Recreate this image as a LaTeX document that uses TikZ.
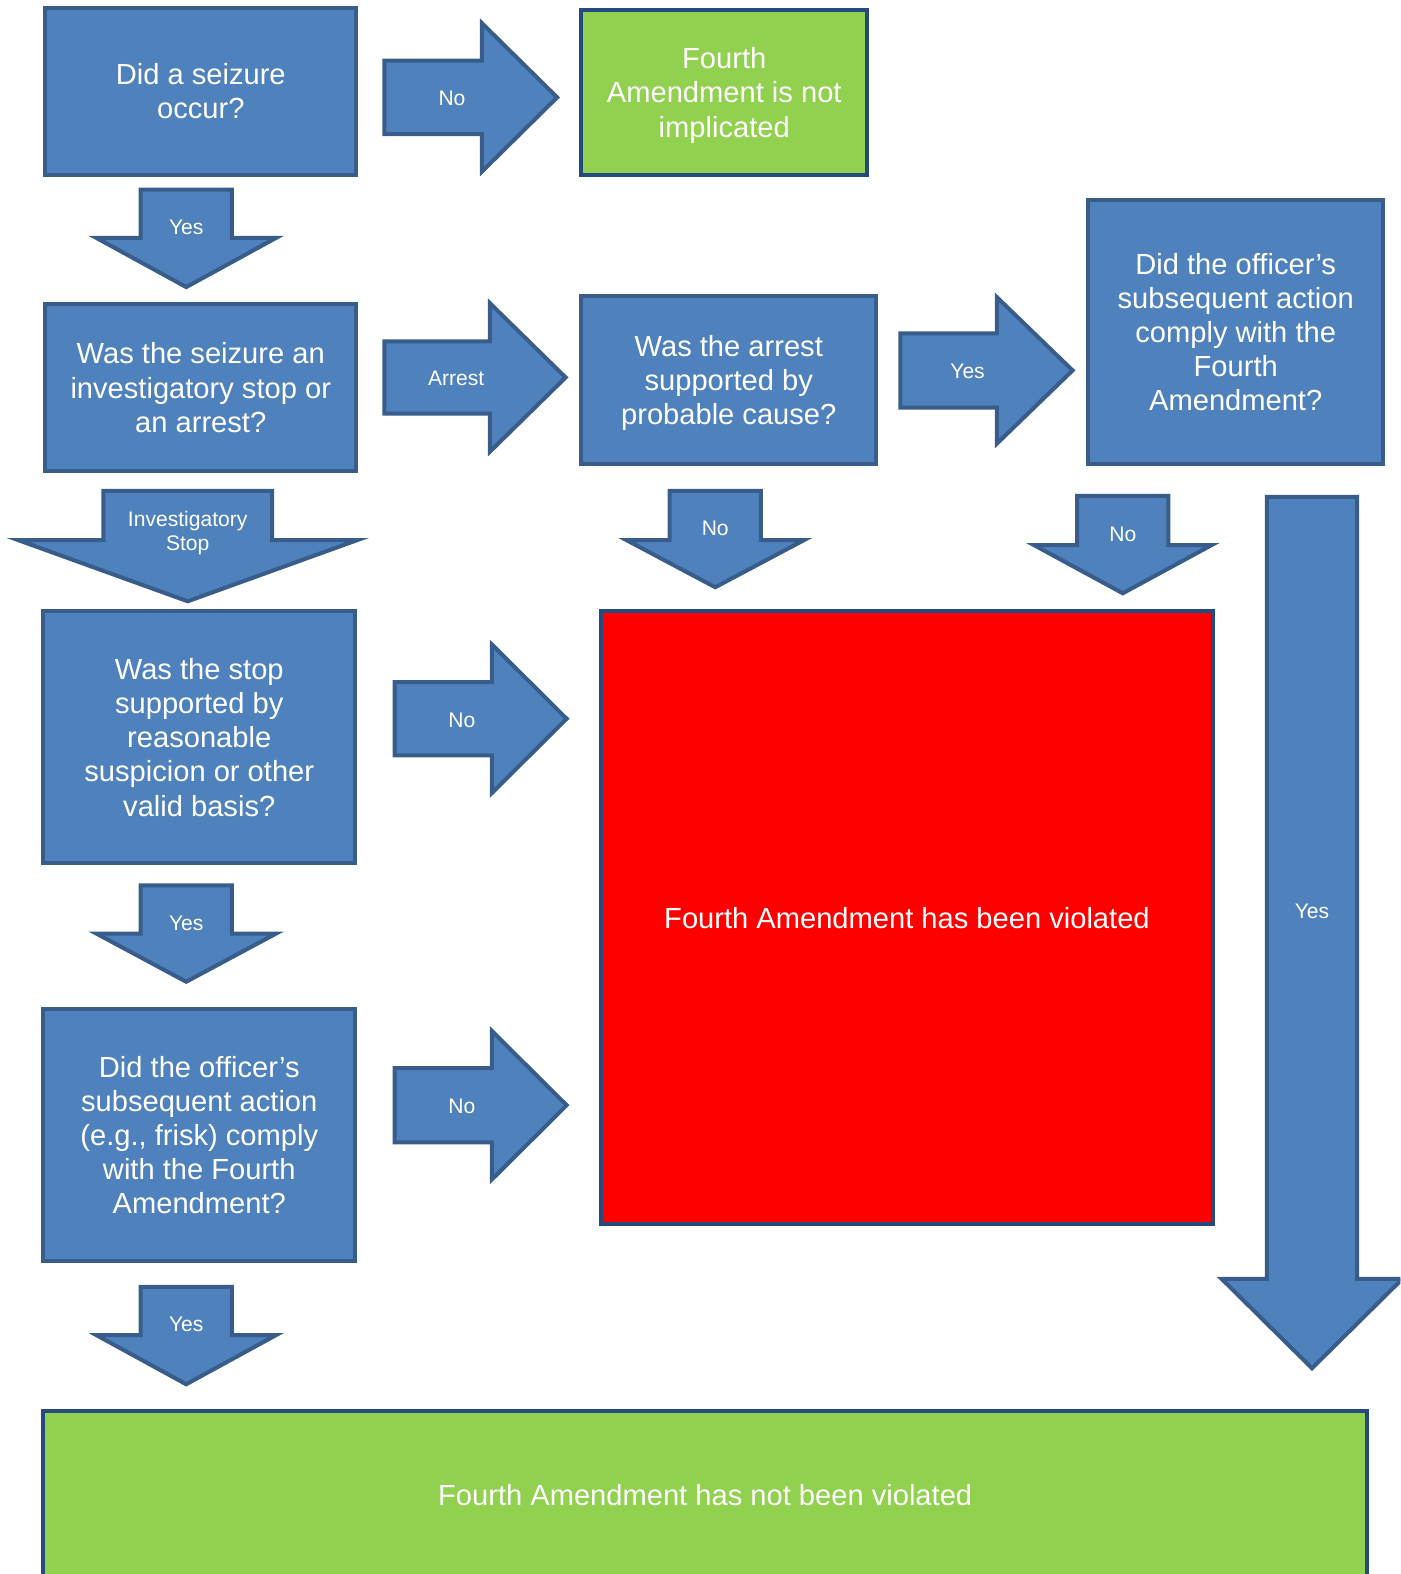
\documentclass[tikz,border=0pt]{standalone}
\usepackage{fontspec}
\setmainfont{Liberation Sans}
\definecolor{boxblue}{HTML}{4F81BD}
\definecolor{boxedge}{HTML}{385D8A}
\definecolor{okgreen}{HTML}{92D050}
\definecolor{darkedge}{HTML}{254A7E}
\definecolor{badred}{HTML}{FF0000}
% name, tail, neck, tip, centre, half body, half head, label
\newcommand{\rblock}[8]{%
	\draw[blockarrow] (#2,#5-#6) -- (#3,#5-#6) -- (#3,#5-#7) -- (#4,#5)
		-- (#3,#5+#7) -- (#3,#5+#6) -- (#2,#5+#6) -- cycle;
	\node[arrowtext] (#1) at ({(#2+#3)/2+(#4-#3)/4},#5) {#8};}
\newcommand{\dblock}[9][]{%
	\draw[blockarrow] (#6-#7,#3) -- (#6-#7,#4) -- (#6-#8,#4) -- (#6,#5)
		-- (#6+#8,#4) -- (#6+#7,#4) -- (#6+#7,#3) -- cycle;
	\node[arrowtext, #1] (#2) at (#6,{(#3+#4)/2+(#5-#4)/4}) {#9};}
\newcommand{\linestrut}{\rule[-5.1pt]{0pt}{31.3pt}}
\newcommand{\tagstrut}{\rule[-3pt]{0pt}{23pt}}
\begin{document}
\begin{tikzpicture}[x=1pt, y=-1pt,
	blockarrow/.style={fill=boxblue, draw=boxedge, line width=4pt, line join=miter},
	arrowtext/.style={text=white, font=\fontsize{21}{24}\selectfont, align=center, inner sep=0pt,
		execute at begin node=\tagstrut, execute at end node=\tagstrut},
	boxbase/.style={rectangle, fill=boxblue, draw=boxedge, line width=4pt, text=white,
		font=\fontsize{29}{34}\selectfont, align=center, inner sep=0pt},
	qbox/.style={boxbase, text depth=-2pt},
	endok/.style={qbox, fill=okgreen, draw=darkedge},
	endline/.style={boxbase, draw=darkedge, execute at begin node=\linestrut, execute at end node=\linestrut}]
	\clip (0,0) rectangle (1395,1568);
	\node (seizure) at (200, 91)	[qbox, minimum width=310pt, minimum height=166pt]	{Did a seizure\\occur?};
	\node (notimpl) at (721.5, 92)	[endok, minimum width=285pt, minimum height=164pt]	{Fourth\\Amendment is not\\implicated};
	\node (kind) at (200, 386)	[qbox, minimum width=310pt, minimum height=166pt]	{Was the seizure an\\investigatory stop or\\an arrest?};
	\node (probable) at (726, 378.5)	[qbox, minimum width=294pt, minimum height=167pt]	{Was the arrest\\supported by\\probable cause?};
	\node (arrestact) at (1231, 330.5)	[qbox, minimum width=294pt, minimum height=263pt]	{Did the officer’s\\subsequent action\\comply with the\\Fourth\\Amendment?};
	\node (reasonable) at (198.5, 734.5)	[qbox, minimum width=311pt, minimum height=251pt]	{Was the stop\\supported by\\reasonable\\suspicion or other\\valid basis?};
	\node (violated) at (903.5, 914)	[endline, fill=badred, minimum width=609pt, minimum height=610pt]	{Fourth Amendment has been violated};
	\node (stopact) at (198.5, 1130.5)	[qbox, minimum width=311pt, minimum height=251pt]	{Did the officer’s\\subsequent action\\(e.g., frisk) comply\\with the Fourth\\Amendment?};
	\node (notviol) at (702.5, 1489)	[endline, fill=okgreen, minimum width=1319pt, minimum height=166pt]	{Fourth Amendment has not been violated};
	\rblock{no1}{383}{480}{555}{97}{36.5}{74}{No}
	\dblock{yes1}{189}{237}{286}{185.5}{45.5}{89.5}{Yes}
	\rblock{arrest}{383}{488}{563.5}{376}{36}{74}{Arrest}
	\rblock{yes2}{897}{993}{1068.5}{369}{37}{73}{Yes}
	\dblock[text depth=-1.6pt]{stop}{489}{538}{599}{187}{84}{169}{Investigatory\\Stop}
	\dblock{no2}{489}{538}{585}{712.5}{45.5}{88.5}{No}
	\dblock{no3}{494}{543}{591}{1118.5}{45.5}{88.5}{No}
	\dblock{yes3}{495}{1274}{1363}{1307}{45}{90}{Yes}
	\rblock{no4}{393}{490}{564.5}{716}{36.5}{74}{No}
	\dblock{yes4}{882}{930}{978}{185.5}{45.5}{89.5}{Yes}
	\rblock{no5}{393}{490}{564.5}{1101}{37}{74}{No}
	\dblock{yes5}{1282}{1330}{1379}{185.5}{45.5}{89.5}{Yes}
\end{tikzpicture}
\end{document}
